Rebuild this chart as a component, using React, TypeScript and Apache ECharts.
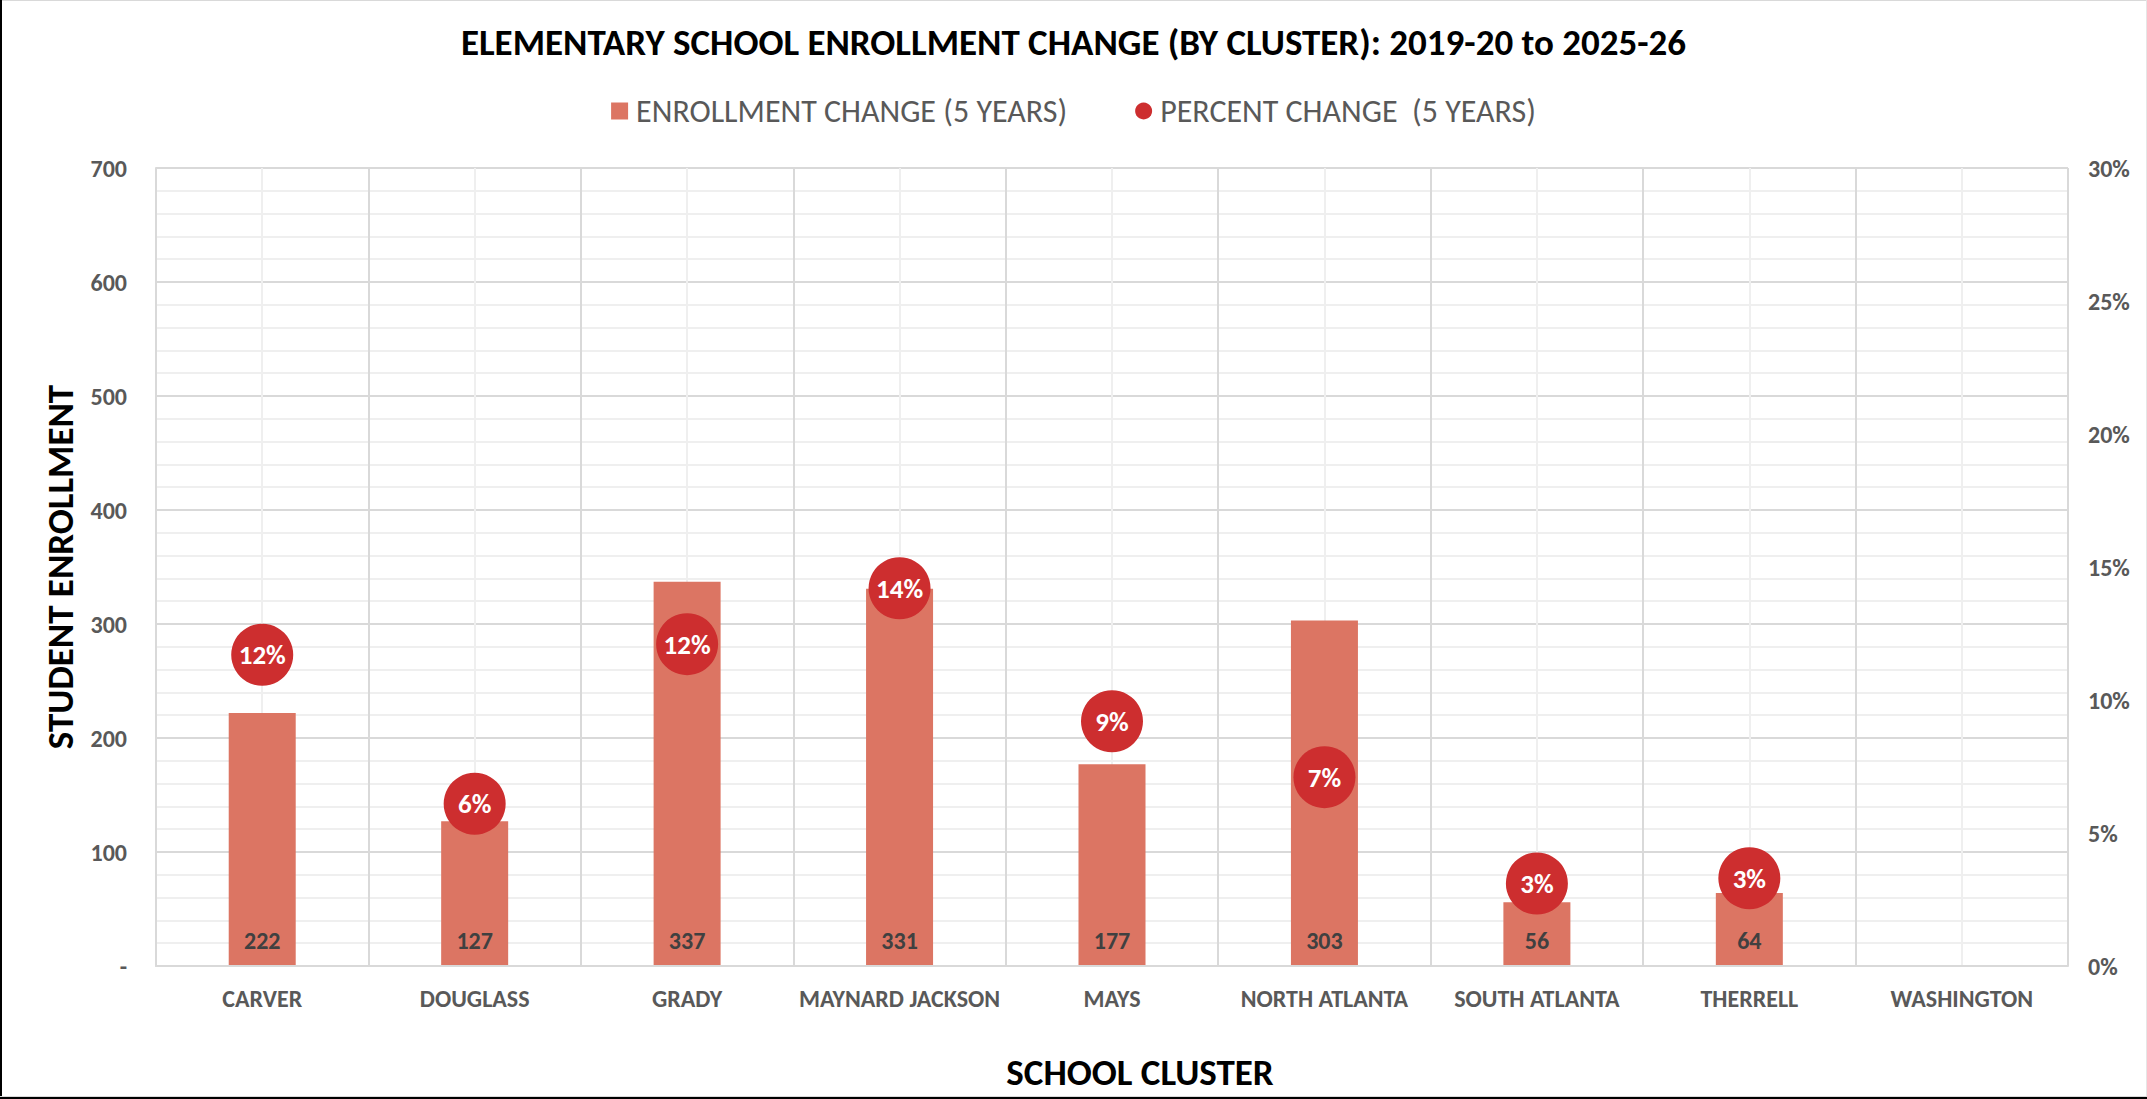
import React, { useEffect, useRef } from "react";
import * as echarts from "echarts";

const categories = [
  "CARVER",
  "DOUGLASS",
  "GRADY",
  "MAYNARD JACKSON",
  "MAYS",
  "NORTH ATLANTA",
  "SOUTH ATLANTA",
  "THERRELL",
  "WASHINGTON",
];
const enrollmentChange: (number | null)[] = [222, 127, 337, 331, 177, 303, 56, 64, null];
const percentChange: (number | null)[] = [0.117, 0.061, 0.121, 0.142, 0.092, 0.071, 0.031, 0.033, null];
const leftTicks = { min: 0, max: 700, interval: 100 };
const rightTicks = { min: 0, max: 0.3, interval: 0.05 };

const FONT = "Carlito, Calibri, Lato, 'Liberation Sans', sans-serif";
const BAR_COLOR = "#DC7563";
const DOT_COLOR = "#CD2E2F";

export default function App() {
  const ref = useRef<HTMLDivElement>(null);
  useEffect(() => {
    if (!ref.current) return;
    const chart = echarts.init(ref.current, undefined, { renderer: "svg" });
    const gridLeft = 156;
    const gridRight = 2147 - 2068;
    const gridTop = 168;
    const gridBottom = 1099 - 966;
    chart.setOption({
      animation: false,
      backgroundColor: "#ffffff",
      textStyle: { fontFamily: FONT },
      title: {
        text: "ELEMENTARY SCHOOL ENROLLMENT CHANGE (BY CLUSTER): 2019-20 to 2025-26",
        left: "center",
        top: 19,
        textStyle: { fontFamily: FONT, fontSize: 37, fontWeight: "bold", color: "#000000" },
      },
      legend: {
        top: 90,
        left: "center",
        itemWidth: 17,
        itemHeight: 17,
        itemGap: 68,
        textStyle: { fontFamily: FONT, fontSize: 32, color: "#595959", padding: [0, 0, 0, 3] },
        data: [
          { name: "ENROLLMENT CHANGE (5 YEARS)", icon: "rect" },
          { name: "PERCENT CHANGE  (5 YEARS)", icon: "circle" },
        ],
      },
      grid: { left: gridLeft, right: gridRight, top: gridTop, bottom: gridBottom, containLabel: false },
      xAxis: [
        {
          type: "category",
          data: categories,
          boundaryGap: true,
          axisLine: { show: true, lineStyle: { color: "#D9D9D9", width: 2 } },
          axisTick: { show: false },
          splitLine: { show: false },
          axisLabel: {
            margin: 20,
            fontFamily: FONT,
            fontSize: 24,
            fontWeight: "bold",
            color: "#595959",
            interval: 0,
          },
          z: 3,
        },
        {
          type: "value",
          min: 0,
          max: 18,
          interval: 1,
          show: true,
          position: "top",
          axisLine: { show: false },
          axisTick: { show: false },
          axisLabel: { show: false },
          splitLine: { show: true, lineStyle: { color: ["#D9D9D9", "#EFEFEF"], width: 2 } },
        },
      ],
      yAxis: [
        {
          type: "value",
          min: leftTicks.min,
          max: leftTicks.max,
          interval: leftTicks.interval,
          name: "STUDENT ENROLLMENT",
          nameLocation: "middle",
          nameRotate: 90,
          nameGap: 77,
          nameTextStyle: { fontFamily: FONT, fontSize: 37, fontWeight: "bold", color: "#000000" },
          axisLine: { show: true, lineStyle: { color: "#D9D9D9", width: 2 } },
          axisTick: { show: false },
          axisLabel: {
            margin: 29,
            fontFamily: FONT,
            fontSize: 24,
            fontWeight: "bold",
            color: "#595959",
            formatter: (v: number) => (v === 0 ? "-" : String(v)),
          },
          splitLine: { show: true, lineStyle: { color: "#D9D9D9", width: 2 } },
          minorTick: { show: false, splitNumber: 5 },
          minorSplitLine: { show: true, lineStyle: { color: "#EFEFEF", width: 2 } },
        },
        {
          type: "value",
          min: rightTicks.min,
          max: rightTicks.max,
          interval: rightTicks.interval,
          position: "right",
          axisLine: { show: false },
          axisTick: { show: false },
          splitLine: { show: false },
          axisLabel: {
            margin: 20,
            fontFamily: FONT,
            fontSize: 24,
            fontWeight: "bold",
            color: "#595959",
            formatter: (v: number) => `${Math.round(v * 100)}%`,
          },
        },
      ],
      series: [
        {
          name: "ENROLLMENT CHANGE (5 YEARS)",
          type: "bar",
          xAxisIndex: 0,
          yAxisIndex: 0,
          data: enrollmentChange,
          barWidth: 67,
          itemStyle: { color: BAR_COLOR },
          label: {
            show: true,
            position: "insideBottom",
            distance: 14,
            fontFamily: FONT,
            fontSize: 24,
            fontWeight: "bold",
            color: "#404040",
          },
          z: 2,
        },
        {
          name: "PERCENT CHANGE  (5 YEARS)",
          type: "scatter",
          xAxisIndex: 0,
          yAxisIndex: 1,
          data: percentChange,
          symbol: "circle",
          symbolSize: 62,
          itemStyle: { color: DOT_COLOR, opacity: 1 },
          label: {
            show: true,
            position: "inside",
            fontFamily: FONT,
            fontSize: 27,
            fontWeight: "bold",
            color: "#ffffff",
            formatter: (p: any) => `${Math.round(p.value * 100)}%`,
          },
          z: 4,
        },
      ],
      graphic: [
        {
          type: "text",
          x: 1140,
          y: 1072,
          style: {
            text: "SCHOOL CLUSTER",
            fontFamily: FONT,
            fontSize: 37,
            fontWeight: "bold",
            fill: "#000000",
            align: "center",
            verticalAlign: "middle",
          },
        },
        { type: "rect", shape: { x: 0, y: 0, width: 2147, height: 1 }, style: { fill: "#D9D9D9" } },
        { type: "rect", shape: { x: 2146, y: 0, width: 1, height: 1099 }, style: { fill: "#E6E6E6" } },
        { type: "rect", shape: { x: 0, y: 0, width: 2, height: 1099 }, style: { fill: "#000000" } },
        { type: "rect", shape: { x: 0, y: 1096, width: 2147, height: 1 }, style: { fill: "#D9D9D9" } },
        { type: "rect", shape: { x: 0, y: 1097, width: 2147, height: 2 }, style: { fill: "#000000" } },
      ],
    });
    return () => chart.dispose();
  }, []);
  return (
    <div
      ref={ref}
      style={{ position: "fixed", left: 0, top: 0, width: 2147, height: 1099, background: "#fff" }}
    />
  );
}
